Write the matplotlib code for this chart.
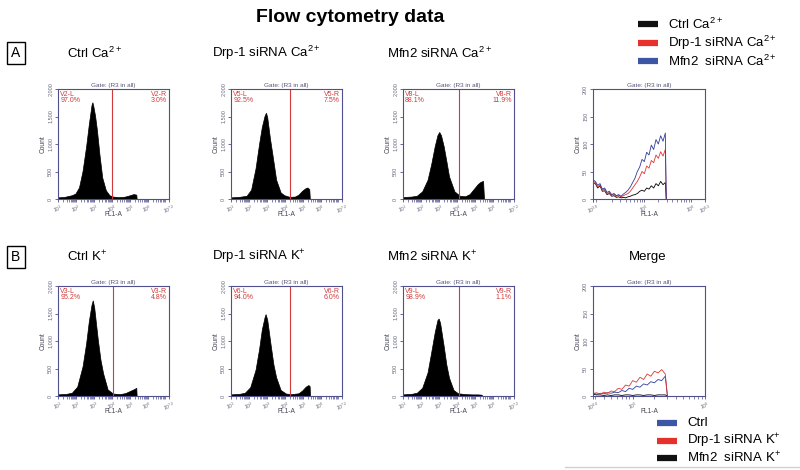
import numpy as np
import matplotlib
matplotlib.use('Agg')
import matplotlib.pyplot as plt
from matplotlib.lines import Line2D

plt.rcParams['font.family'] = ['Liberation Sans', 'DejaVu Sans']
plt.rcParams['mathtext.fontset'] = 'custom'
plt.rcParams['mathtext.rm'] = 'Liberation Sans'
plt.rcParams['mathtext.it'] = 'Liberation Sans:italic'
plt.rcParams['mathtext.bf'] = 'Liberation Sans:bold'

# ---------------- data ----------------
row_a_titles = ['Ctrl Ca$^{2+}$', 'Drp-1 siRNA Ca$^{2+}$', 'Mfn2 siRNA Ca$^{2+}$']
row_b_titles = ['Ctrl K$^{+}$', 'Drp-1 siRNA K$^{+}$', 'Mfn2 siRNA K$^{+}$']

gate_names_a = [('V2-L', 'V2-R'), ('V5-L', 'V5-R'), ('V8-L', 'V8-R')]
gate_pcts_a = [('97.0%', '3.0%'), ('92.5%', '7.5%'), ('88.1%', '11.9%')]
gate_pos_a = [4.03, 4.27, 4.10]
gate_names_b = [('V3-L', 'V3-R'), ('V6-L', 'V6-R'), ('V9-L', 'V9-R')]
gate_pcts_b = [('95.2%', '4.8%'), ('94.0%', '6.0%'), ('98.9%', '1.1%')]
gate_pos_b = [4.07, 4.30, 4.12]

# histograms: log10(FL1-A) positions and counts
ctrl_ca_x = [1.0, 1.4, 1.8, 2.0, 2.2, 2.4, 2.6, 2.75, 2.9, 2.95, 3.0, 3.1, 3.2, 3.35, 3.5, 3.7, 3.9, 4.1, 4.4, 4.7, 4.9, 5.1, 5.25, 5.4, 5.42]
ctrl_ca_y = [20, 30, 60, 90, 200, 500, 950, 1350, 1700, 1750, 1680, 1500, 1250, 780, 380, 150, 60, 35, 25, 30, 45, 65, 80, 70, 0]
drp_ca_x = [1.0, 1.5, 1.9, 2.15, 2.4, 2.6, 2.75, 2.9, 2.98, 3.05, 3.2, 3.35, 3.55, 3.8, 4.0, 4.3, 4.6, 4.8, 5.0, 5.2, 5.3, 5.4, 5.43]
drp_ca_y = [20, 30, 50, 160, 550, 1000, 1300, 1500, 1560, 1480, 1100, 780, 340, 110, 60, 30, 35, 70, 140, 190, 200, 170, 0]
mfn_ca_x = [1.0, 1.5, 1.8, 2.1, 2.4, 2.6, 2.8, 2.95, 3.05, 3.15, 3.3, 3.45, 3.6, 3.9, 4.2, 4.5, 4.75, 5.0, 5.2, 5.35, 5.5, 5.55]
mfn_ca_y = [25, 35, 50, 130, 340, 620, 950, 1150, 1210, 1150, 950, 680, 400, 130, 50, 40, 80, 180, 260, 300, 320, 0]

ctrl_k_x = [1.0, 1.5, 1.8, 2.1, 2.4, 2.6, 2.75, 2.9, 2.97, 3.05, 3.25, 3.4, 3.55, 3.8, 4.1, 4.5, 4.8, 5.1, 5.3, 5.4, 5.42]
ctrl_k_y = [20, 30, 50, 160, 530, 950, 1350, 1650, 1730, 1600, 1020, 650, 400, 110, 35, 25, 45, 90, 120, 140, 0]
drp_k_x = [1.0, 1.5, 1.8, 2.1, 2.4, 2.6, 2.75, 2.9, 2.96, 3.05, 3.25, 3.4, 3.55, 3.8, 4.1, 4.4, 4.8, 5.0, 5.2, 5.35, 5.42, 5.44]
drp_k_y = [20, 30, 50, 150, 470, 850, 1200, 1420, 1480, 1380, 900, 560, 330, 100, 35, 25, 40, 90, 160, 190, 170, 0]
mfn_k_x = [1.0, 1.5, 1.8, 2.1, 2.4, 2.6, 2.8, 2.95, 3.02, 3.1, 3.3, 3.45, 3.6, 3.85, 4.1, 4.5, 4.9, 5.2, 5.4, 5.45]
mfn_k_y = [20, 30, 50, 140, 420, 780, 1150, 1370, 1400, 1320, 900, 560, 320, 100, 40, 25, 20, 20, 15, 0]

# merge A (Ca2+)
merge_a_x = [3.90, 3.95, 4.00, 4.05, 4.10, 4.15, 4.20, 4.25, 4.30, 4.35, 4.40, 4.45, 4.50, 4.55,
             4.60, 4.65, 4.70, 4.75, 4.80, 4.85, 4.90, 4.95, 5.00, 5.05, 5.10, 5.15, 5.20,
             5.25, 5.30, 5.35, 5.40, 5.45, 5.47]
merge_a_mfn = [35, 32, 25, 28, 18, 20, 12, 14, 8, 10, 6, 8, 5, 9, 12, 16, 22, 30, 38, 50, 58,
               72, 68, 85, 80, 98, 90, 108, 100, 115, 105, 120, 0]
merge_a_drp = [32, 30, 22, 26, 16, 18, 10, 12, 7, 9, 5, 7, 4, 6, 8, 10, 14, 20, 26, 32, 40,
               50, 46, 60, 56, 70, 66, 80, 74, 86, 78, 90, 0]
merge_a_ctrl = [30, 28, 20, 24, 14, 15, 8, 10, 5, 6, 3, 4, 2, 3, 2, 4, 5, 7, 8, 10, 14,
                16, 14, 20, 18, 24, 20, 28, 24, 32, 26, 30, 0]

# merge B (K+)
merge_b_x = [4.45, 4.50, 4.55, 4.60, 4.65, 4.70, 4.75, 4.80, 4.85, 4.90, 4.95, 5.00, 5.05,
             5.10, 5.15, 5.20, 5.25, 5.30, 5.35, 5.40, 5.45, 5.48]
merge_b_drp = [4, 6, 3, 7, 5, 9, 8, 14, 12, 20, 18, 28, 25, 34, 30, 40, 36, 45, 42, 48, 40, 0]
merge_b_ctrl = [6, 3, 5, 4, 6, 5, 7, 6, 10, 8, 14, 12, 18, 16, 22, 20, 26, 24, 30, 28, 36, 0]
merge_b_mfn = [3, 2, 2, 1, 2, 1, 2, 2, 1, 2, 2, 1, 2, 2, 1, 2, 2, 1, 2, 2, 2, 0]

legend_a = ['Ctrl Ca$^{2+}$', 'Drp-1 siRNA Ca$^{2+}$', 'Mfn2  siRNA Ca$^{2+}$']
legend_b = ['Ctrl', 'Drp-1 siRNA K$^{+}$', 'Mfn2  siRNA K$^{+}$']

# ---------------- style ----------------
SP = '#50508f'
TXT = '#6a6a80'
RED = '#d03a3a'
C_BLACK = '#111111'
C_RED = '#e8302a'
C_BLUE = '#3c56a5'
L_RED = '#e03535'
L_BLUE = '#2f3d9a'

W, H = 800, 470
fig = plt.figure(figsize=(8, 4.7), dpi=100)


def fx(x):
    return x / W


def fy(y):
    return 1 - y / H


def add_ax(l, t, r, b):
    return fig.add_axes([l / W, 1 - b / H, (r - l) / W, (b - t) / H])


def minor_positions(lo, hi):
    out = []
    for d in range(int(np.floor(lo)), int(np.ceil(hi)) + 1):
        for k in range(2, 10):
            v = d + np.log10(k)
            if lo < v < hi:
                out.append(v)
    return out


def style(ax, xlim, xticks, xlabels, ylim, yticks, ylabels):
    ax.set_xlim(*xlim)
    ax.set_ylim(*ylim)
    for s in ax.spines.values():
        s.set_color(SP)
        s.set_linewidth(0.8)
    ax.set_xticks(xticks)
    ax.set_xticklabels(xlabels, fontsize=3.8, color=TXT, rotation=20)
    ax.set_xticks(minor_positions(*xlim), minor=True)
    ax.set_yticks(yticks)
    ax.set_yticklabels(ylabels, fontsize=4, color=TXT, rotation=90, va='center')
    ax.tick_params(axis='both', which='major', direction='out', length=2.5, width=0.6, color=SP, pad=1)
    ax.tick_params(axis='x', which='major', pad=0.5)
    ax.tick_params(axis='x', which='minor', direction='out', length=1.8, width=0.5, color=SP)
    ax.set_ylabel('Count', fontsize=4.8, color='#444455', labelpad=1)
    ax.set_xlabel('FL1-A', fontsize=4.8, color='#444455')
    ax.xaxis.set_label_coords(0.5, -0.11)
    ax.text(0.5, 1.01, 'Gate: (R3 in all)', transform=ax.transAxes, ha='center', va='bottom',
            fontsize=4.6, color='#55557a')


hist_xticks = [1, 2, 3, 4, 5, 6, 7.2]
hist_xlabels = ['$10^{1}$', '$10^{2}$', '$10^{3}$', '$10^{4}$', '$10^{5}$', '$10^{6}$', '$10^{7.2}$']
hist_yticks = [0, 500, 1000, 1500, 2000]
hist_ylabels = ['0', '500', '1,000', '1,500', '2,000']


def draw_hist(ax, x, y, gate, names, pcts):
    ax.fill(list(x) + [x[0]], list(y) + [0], facecolor='black', edgecolor='black', lw=0.5)
    style(ax, (1, 7.2), hist_xticks, hist_xlabels, (0, 2000), hist_yticks, hist_ylabels)
    ax.axvline(gate, color=RED, lw=0.8)
    ax.text(0.02, 0.985, names[0] + '\n' + pcts[0], transform=ax.transAxes, ha='left', va='top',
            fontsize=5, color=RED, linespacing=0.95)
    ax.text(0.98, 0.985, names[1] + '\n' + pcts[1], transform=ax.transAxes, ha='right', va='top',
            fontsize=5, color=RED, linespacing=0.95, multialignment='right')


cols = [(58, 169), (231, 342), (403, 514)]
row_a = (89, 199)
row_b = (286, 396)

hists_a = [(ctrl_ca_x, ctrl_ca_y), (drp_ca_x, drp_ca_y), (mfn_ca_x, mfn_ca_y)]
hists_b = [(ctrl_k_x, ctrl_k_y), (drp_k_x, drp_k_y), (mfn_k_x, mfn_k_y)]

for i, (l, r) in enumerate(cols):
    ax = add_ax(l, row_a[0], r, row_a[1])
    draw_hist(ax, hists_a[i][0], hists_a[i][1], gate_pos_a[i], gate_names_a[i], gate_pcts_a[i])
    ax = add_ax(l, row_b[0], r, row_b[1])
    draw_hist(ax, hists_b[i][0], hists_b[i][1], gate_pos_b[i], gate_names_b[i], gate_pcts_b[i])

# merge A
merge_yticks = [0, 50, 100, 150, 200]
merge_ylabels = ['0', '50', '100', '150', '200']
ax = add_ax(593, row_a[0], 705, row_a[1])
ax.plot(merge_a_x, merge_a_ctrl, color='black', lw=0.6)
ax.plot(merge_a_x, merge_a_drp, color=L_RED, lw=0.6)
ax.plot(merge_a_x, merge_a_mfn, color=L_BLUE, lw=0.6)
style(ax, (3.9, 6.3), [3.9, 5, 6, 6.3], ['$10^{3.9}$', '$10^{5}$', '$10^{6}$', '$10^{6.3}$'],
      (0, 200), merge_yticks, merge_ylabels)

# merge B
ax = add_ax(593, row_b[0], 705, row_b[1])
ax.plot(merge_b_x, merge_b_mfn, color='black', lw=0.6)
ax.plot(merge_b_x, merge_b_ctrl, color=L_BLUE, lw=0.6)
ax.plot(merge_b_x, merge_b_drp, color=L_RED, lw=0.6)
style(ax, (4.45, 6.0), [4.45, 5, 6], ['$10^{4.4}$', '$10^{5}$', '$10^{6}$'],
      (0, 200), merge_yticks, merge_ylabels)

# titles
fig.text(fx(350), fy(17), 'Flow cytometry data', ha='center', va='center', fontsize=14, weight='bold')
title_x = [67, 212, 387]
for i in range(3):
    fig.text(fx(title_x[i]), fy(53), row_a_titles[i], ha='left', va='center', fontsize=9.5)
    fig.text(fx(title_x[i]), fy(257), row_b_titles[i], ha='left', va='center', fontsize=9.5)
fig.text(fx(648), fy(257), 'Merge', ha='center', va='center', fontsize=9.5)

box = dict(boxstyle='square,pad=0.3', fc='white', ec='black', lw=1.0)
fig.text(fx(16), fy(53), 'A', ha='center', va='center', fontsize=10, bbox=box)
fig.text(fx(16), fy(257), 'B', ha='center', va='center', fontsize=10, bbox=box)

# legends
leg_a_colors = [C_BLACK, C_RED, C_BLUE]
leg_a_y = [24, 43, 61]
for c, t, y in zip(leg_a_colors, legend_a, leg_a_y):
    fig.add_artist(Line2D([fx(638), fx(658)], [fy(y), fy(y)], lw=4.5, color=c, solid_capstyle='butt'))
    fig.text(fx(668), fy(y), t, ha='left', va='center', fontsize=9.5)

leg_b_colors = [C_BLUE, C_RED, C_BLACK]
leg_b_y = [423, 441, 458]
for c, t, y in zip(leg_b_colors, legend_b, leg_b_y):
    fig.add_artist(Line2D([fx(657), fx(677)], [fy(y), fy(y)], lw=4.5, color=c, solid_capstyle='butt'))
    fig.text(fx(687), fy(y), t, ha='left', va='center', fontsize=9.5)

fig.add_artist(Line2D([fx(565), fx(800)], [fy(467), fy(467)], lw=1, color='#d0d0d0'))

fig.savefig('out.png', dpi=100)
